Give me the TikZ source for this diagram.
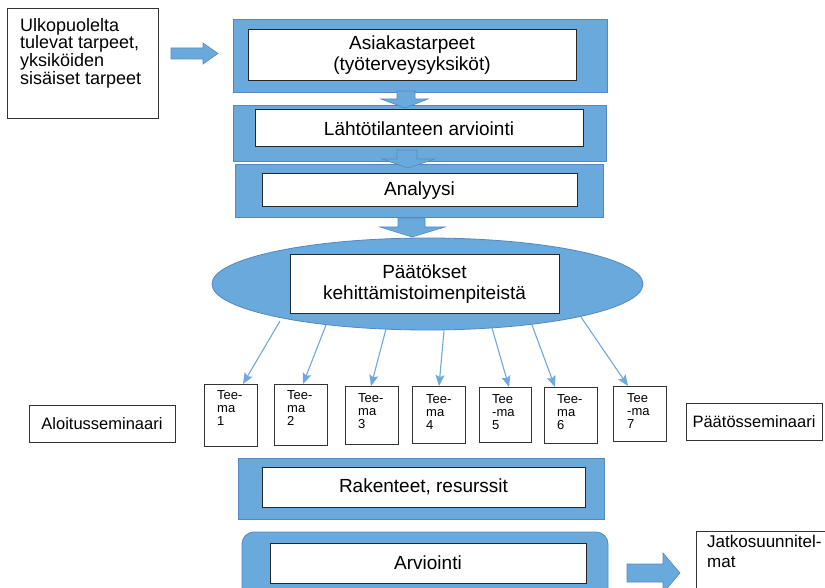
\documentclass[tikz,border=0pt]{standalone}
\usepackage{fontspec}
\setmainfont{Liberation Sans}
\usetikzlibrary{arrows.meta,shapes.geometric}
\definecolor{flowblue}{RGB}{106,169,220}
\definecolor{flowedge}{RGB}{84,135,195}
\definecolor{linkblue}{RGB}{111,168,220}
\begin{document}
\begin{tikzpicture}[x=1pt,y=-1pt,
  panel/.style={draw=flowedge, line width=0.8pt, fill=flowblue, inner sep=0pt, outer sep=0pt},
  textbox/.style={draw=black!85, line width=1pt, fill=white, inner sep=0pt, outer sep=0pt,
    align=center, font=\fontsize{19}{21}\selectfont},
  plainbox/.style={draw=black!80, line width=0.9pt, fill=white, inner sep=0pt, outer sep=0pt},
  teema/.style={plainbox, minimum width=53pt},
  teematext/.style={anchor=north west, inner sep=0pt, align=left, font=\fontsize{13}{13.3}\selectfont},
  blockarrow/.style={draw=flowedge, line width=0.6pt, fill=flowblue},
  link/.style={draw=linkblue, line width=1.1pt, -{Stealth[length=11pt,width=9pt,inset=2pt]}}
]
\useasboundingbox (0,0) rectangle (825,588);
\clip (0,0) rectangle (825,588);

% incoming needs
\node[plainbox, minimum width=151pt, minimum height=110pt] (needs) at (82.5,63) {};
\node[anchor=north west, inner sep=0pt, align=left, font=\fontsize{18}{17.6}\selectfont]
  (needstxt) at (20,18) {Ulkopuolelta\\tulevat tarpeet,\\yksiköiden\\sisäiset tarpeet};
\draw[blockarrow] (171,48) -- (203,48) -- (203,43) -- (218,53.5) -- (203,64) -- (203,59) -- (171,59) -- cycle;

% main flow panels
\node[panel, minimum width=374pt, minimum height=73pt] (p1) at (420,55.5) {};
\node[textbox, minimum width=328pt, minimum height=51pt] (b1) at (412,55.5) {Asiakastarpeet\\(työterveysyksiköt)};

\node[panel, minimum width=373pt, minimum height=56pt] (p2) at (419.5,133) {};
\node[textbox, minimum width=328pt, minimum height=37pt] (b2) at (419,128.5) {Lähtötilanteen arviointi};

\node[panel, minimum width=368pt, minimum height=53pt] (p3) at (419,190.5) {};
\node[textbox, minimum width=315pt, minimum height=33pt] (b3) at (419.5,190.5) {Analyysi};

\node[panel, ellipse, minimum width=431pt, minimum height=92pt] (ell) at (427.5,284) {};
\node[textbox, minimum width=269pt, minimum height=58pt] (b4) at (424.5,284) {Päätökset\\kehittämistoimenpiteistä};

% down arrows between panels
\draw[blockarrow] (397,91) -- (415,91) -- (415,99) -- (428,99) -- (405,108) -- (381,99) -- (397,99) -- cycle;
\draw[blockarrow] (397,150) -- (417,150) -- (417,159) -- (435,159) -- (408,168) -- (382,159) -- (397,159) -- cycle;
\draw[blockarrow] (398,218) -- (425,218) -- (425,227) -- (445,227) -- (412,237) -- (380,227) -- (398,227) -- cycle;

% themes
\node[teema, minimum height=62pt] (t1) at (230.5,415) {};
\node[teema, minimum height=61pt] (t2) at (300.5,414.5) {};
\node[teema, minimum height=58pt] (t3) at (371.5,415) {};
\node[teema, minimum height=57pt] (t4) at (438.5,414.5) {};
\node[teema, minimum width=52pt, minimum height=55pt] (t5) at (505,414.5) {};
\node[teema, minimum height=56pt] (t6) at (570.5,415) {};
\node[teema, minimum height=55pt] (t7) at (639.5,413.5) {};

\node[teematext] (t1txt) at ([shift={(13,6)}]t1.north west) {Tee-\\ma\\1};
\node[teematext] (t2txt) at ([shift={(13,6)}]t2.north west) {Tee-\\ma\\2};
\node[teematext] (t3txt) at ([shift={(13,7)}]t3.north west) {Tee-\\ma\\3};
\node[teematext] (t4txt) at ([shift={(14,8)}]t4.north west) {Tee-\\ma\\4};
\node[teematext] (t5txt) at ([shift={(13,7)}]t5.north west) {Tee\\-ma\\5};
\node[teematext] (t6txt) at ([shift={(13,7)}]t6.north west) {Tee-\\ma\\6};
\node[teematext] (t7txt) at ([shift={(14,7)}]t7.north west) {Tee\\-ma\\7};

% links from the decisions to the themes
\draw[link] ([shift={(-147.5,37)}]ell.center) -- ([xshift=12.5pt]t1.north);
\draw[link] ([shift={(-101.5,41)}]ell.center) -- ([xshift=2.5pt]t2.north);
\draw[link] ([shift={(-41.5,45)}]ell.center) -- ([xshift=-0.5pt]t3.north);
\draw[link] ([shift={(16.5,47)}]ell.center) -- ([xshift=0.5pt]t4.north);
\draw[link] ([shift={(64.5,44)}]ell.center) -- ([xshift=4pt]t5.north);
\draw[link] ([shift={(104.5,41)}]ell.center) -- ([xshift=-15.5pt]t6.north);
\draw[link] ([shift={(153.5,33)}]ell.center) -- ([xshift=-11.5pt]t7.north);

% seminars
\node[plainbox, minimum width=146pt, minimum height=37pt, font=\fontsize{16.5}{18}\selectfont]
  (aloitus) at (102,423.5) {Aloitusseminaari};
\node[plainbox, minimum width=136pt, minimum height=37pt, font=\fontsize{16.5}{18}\selectfont]
  (paatos) at (754,421.5) {Päätösseminaari};

% structures and evaluation
\node[panel, minimum width=366pt, minimum height=61pt] (p5) at (421,488.5) {};
\node[textbox, minimum width=323pt, minimum height=40pt] (b5) at (423.5,487) {Rakenteet, resurssit};

\node[panel, rounded corners=12pt, minimum width=366pt, minimum height=70pt] (p6) at (425,567) {};
\node[textbox, minimum width=316pt, minimum height=40pt] (b6) at (428,563) {Arviointi};

\draw[blockarrow] (627,564) -- (663,564) -- (663,553) -- (680,573) -- (663,593) -- (663,582) -- (627,582) -- cycle;

\node[plainbox, minimum width=136pt, minimum height=69pt] (jatko) at (764,565.5) {};
\node[anchor=north west, inner sep=0pt, align=left, font=\fontsize{17}{19.5}\selectfont]
  (jatkotxt) at (707,535) {Jatkosuunnitel-\\mat};
\end{tikzpicture}
\end{document}
